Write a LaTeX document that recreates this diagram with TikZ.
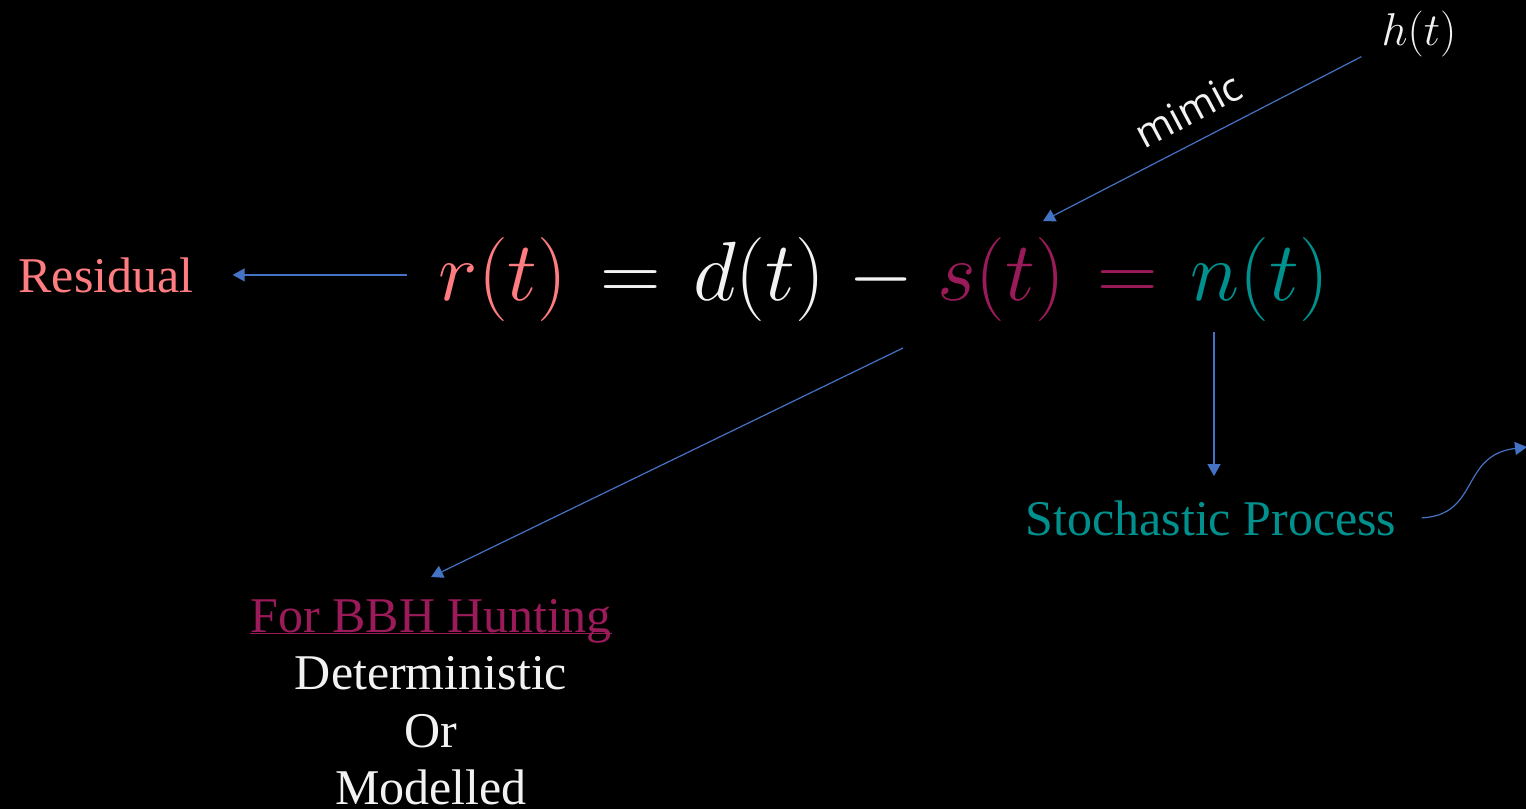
\RequirePackage{fix-cm}
\documentclass[tikz,border=0pt]{standalone}
\usepackage{fontspec}
\setmainfont{Liberation Serif}
\newfontfamily\mimicfont{Open Sans}
\usetikzlibrary{arrows.meta,positioning}
\definecolor{coral}{HTML}{FF7C80}
\definecolor{berry}{HTML}{9B1B5A}
\definecolor{stochteal}{HTML}{00918F}
\definecolor{offwhite}{HTML}{F2F2F2}
\definecolor{linkblue}{HTML}{4472C4}

\begin{document}
\begin{tikzpicture}[x=1pt, y=-1pt,
  arr/.style={-{Triangle[length=12pt,width=13pt]}, line width=1.2pt, linkblue},
  txt/.style={inner sep=0pt, font=\fontsize{50}{57.5}\selectfont}
]
\fill[black] (0,0) rectangle (1526,809);
\useasboundingbox (0,0) rectangle (1526,809);

% Main equation
\node[anchor=base, inner sep=0pt, text=offwhite, font=\fontsize{84}{94}\selectfont] (eqn) at (884,300)
  {\thickmuskip=7mu \medmuskip=5mu
   $\textcolor{coral}{r(t)} = d(t) - \textcolor{berry}{s(t)} \mathrel{\textcolor{berry}{=}} \textcolor{stochteal}{n(t)}$};

% Labels
\node[txt, text=coral, anchor=base] (residual) at (106,292) {Residual};
\node[anchor=base, inner sep=0pt, text=offwhite, font=\fontsize{46}{50}\selectfont] (ht) at (1419,45) {$h(t)$};
\node[txt, text=stochteal, anchor=base] (stoch) at (1211,535) {Stochastic Process};
\node[txt, text=offwhite, align=center, anchor=north] (bbh) at (431,632)
  {\textcolor{berry}{\underline{\smash{For BBH Hunting}}}\\Deterministic\\Or\\Modelled};
\node[inner sep=0pt, text=offwhite, rotate=28, font=\mimicfont\fontsize{40}{44}\selectfont] (mimic) at (1188,110) {mimic};

% Points on the equation
\coordinate (stip) at (1043,221);
\coordinate (dfoot) at (903,348);
\coordinate (nfoot) at (1214,332);
\coordinate (offpage) at (1527,447);

% Connectors
\draw[arr, shorten <=32pt, shorten >=39pt] (eqn.west |- residual.east) -- (residual.east);
\draw[arr] ([xshift=-20pt]ht.south west) -- (stip);
\draw[arr] (dfoot) -- ([yshift=55pt]bbh.north);
\draw[arr, shorten >=24pt] (nfoot) -- (nfoot |- stoch.north);
\draw[arr] ([xshift=25pt]stoch.east) .. controls (1480,515) and (1460,455) .. (offpage);

\end{tikzpicture}
\end{document}
